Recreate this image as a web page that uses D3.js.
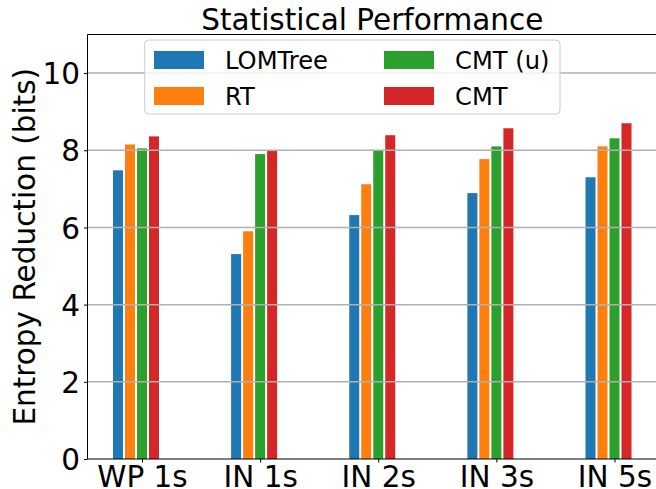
<!DOCTYPE html>
<html>
<head>
<meta charset="utf-8">
<script src="https://cdn.jsdelivr.net/npm/d3@7"></script>
<style>
  html, body { margin: 0; padding: 0; background: #fff; }
  svg { display: block; font-family: "DejaVu Sans", sans-serif; }
</style>
</head>
<body>
<svg id="chart" width="656" height="489"></svg>
<script>
const categories = ["WP 1s", "IN 1s", "IN 2s", "IN 3s", "IN 5s"];
const seriesNames = ["LOMTree", "RT", "CMT (u)", "CMT"];
const lomtree = [7.48, 5.31, 6.32, 6.89, 7.30];
const rt      = [8.15, 5.90, 7.12, 7.77, 8.10];
const cmtU    = [8.05, 7.90, 7.99, 8.10, 8.31];
const cmt     = [8.36, 7.98, 8.39, 8.57, 8.70];
const colors  = ["#1f77b4", "#ff7f0e", "#2ca02c", "#d62728"];
const yTicks  = [0, 2, 4, 6, 8, 10];
const title   = "Statistical Performance";
const yLabel  = "Entropy Reduction (bits)";

const seriesValues = [lomtree, rt, cmtU, cmt];

const svg = d3.select("#chart");
const mLeft = 87.5, mRight = 657, mTop = 34.5, mBottom = 459;

const y = d3.scaleLinear().domain([0, 11]).range([mBottom, mTop]);
const x = d3.scaleLinear().domain([0, categories.length - 1]).range([142, 614.5]);
const xSub = d3.scaleLinear().domain([0, 3]).range([-24, 12]);
const barW = 10;

// bars
seriesValues.forEach((vals, k) => {
  svg.append("g").selectAll("rect").data(vals).join("rect")
    .attr("x", (d, i) => x(i) + xSub(k) - barW / 2)
    .attr("width", barW)
    .attr("y", d => y(d))
    .attr("height", d => y(0) - y(d))
    .attr("fill", colors[k]);
});

// grid (drawn over bars, like matplotlib)
svg.append("g").selectAll("line").data(yTicks.filter(t => t > 0)).join("line")
  .attr("x1", mLeft).attr("x2", mRight)
  .attr("y1", d => y(d)).attr("y2", d => y(d))
  .attr("stroke", "#b0b0b0").attr("stroke-width", 1.5);

// y axis
const yAxis = d3.axisLeft(y).tickValues(yTicks).tickSize(3.5).tickPadding(4).tickFormat(d3.format("d"));
const gy = svg.append("g").attr("transform", `translate(${mLeft},0)`).call(yAxis);
gy.select(".domain").remove();
gy.selectAll("text").attr("font-size", "29.5px").attr("fill", "#000")
  .attr("font-family", "DejaVu Sans").attr("dy", "0.36em");
gy.selectAll("line").attr("stroke", "#000");

// x axis
const xAxis = d3.axisBottom(x).tickValues(d3.range(categories.length))
  .tickFormat(i => categories[i]).tickSize(3.5).tickPadding(3);
const gx = svg.append("g").attr("transform", `translate(0,${mBottom})`).call(xAxis);
gx.select(".domain").remove();
gx.selectAll("text").attr("font-size", "29.5px").attr("fill", "#000")
  .attr("font-family", "DejaVu Sans").attr("dy", "0.74em");
gx.selectAll("line").attr("stroke", "#000");

// spines
svg.append("line").attr("x1", mLeft).attr("x2", mLeft).attr("y1", mTop).attr("y2", mBottom)
  .attr("stroke", "#000").attr("stroke-width", 1);
svg.append("line").attr("x1", mLeft).attr("x2", mRight).attr("y1", mBottom).attr("y2", mBottom)
  .attr("stroke", "#000").attr("stroke-width", 1);
svg.append("line").attr("x1", mLeft).attr("x2", mRight).attr("y1", mTop).attr("y2", mTop)
  .attr("stroke", "#000").attr("stroke-width", 1);

// title
svg.append("text").attr("x", (mLeft + mRight) / 2).attr("y", 29.5)
  .attr("text-anchor", "middle").attr("font-size", "29.5px").text(title);

// y label
svg.append("text").attr("transform", `translate(35,${(mTop + mBottom) / 2}) rotate(-90)`)
  .attr("text-anchor", "middle").attr("font-size", "29.5px").text(yLabel);

// legend
const lg = svg.append("g");
lg.append("rect").attr("x", 144.7).attr("y", 40).attr("width", 415.3).attr("height", 74)
  .attr("rx", 4).attr("fill", "#fff").attr("fill-opacity", 0.8)
  .attr("stroke", "#cccccc").attr("stroke-width", 1);
const legPos = [[154, 60], [154, 96], [384, 60], [384, 96]];
seriesNames.forEach((name, k) => {
  const [lx, ly] = legPos[k];
  lg.append("rect").attr("x", lx).attr("y", ly - 9).attr("width", 50).attr("height", 18)
    .attr("fill", colors[k]);
  lg.append("text").attr("x", lx + 71).attr("y", ly + 8.7)
    .attr("font-size", "24.2px").text(name);
});
</script>
</body>
</html>
